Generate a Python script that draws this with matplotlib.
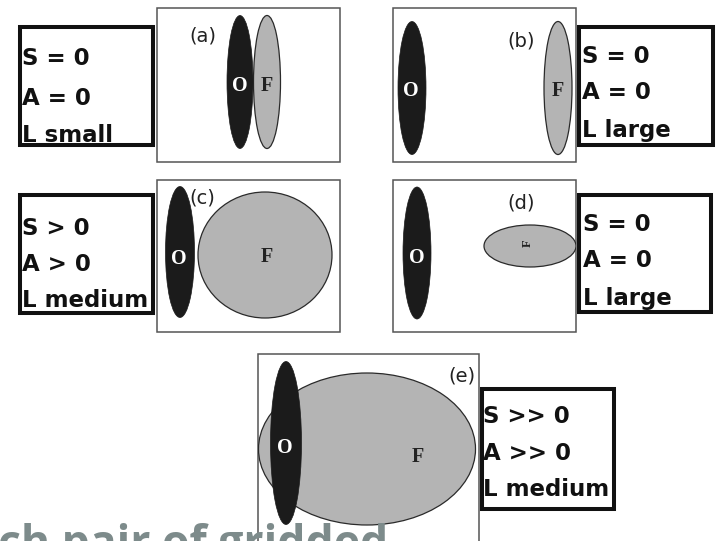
import matplotlib
matplotlib.use("Agg")
import matplotlib.pyplot as plt
from matplotlib.patches import Ellipse, Rectangle

# ---- data (pixel-space diagram) ----
panel_ids = ['(a)', '(b)', '(c)', '(d)', '(e)']
S_text = ['S = 0', 'S = 0', 'S > 0', 'S = 0', 'S >> 0']
A_text = ['A = 0', 'A = 0', 'A > 0', 'A = 0', 'A >> 0']
L_text = ['L small', 'L large', 'L medium', 'L large', 'L medium']

# panel frames: left, top, right, bottom
panel_boxes = [(157, 8, 340, 162), (393, 8, 576, 162), (157, 180, 340, 332),
               (393, 180, 576, 332), (258, 354, 479, 575)]
# label boxes (outer): left, top, right, bottom
label_boxes = [(18, 25, 155, 147), (577, 25, 715, 147), (18, 193, 155, 315),
               (577, 193, 713, 314), (480, 387, 616, 511)]
label_x = [22, 582, 22, 583, 483]
label_baselines = [(65, 105, 142), (63, 99, 137), (235, 271, 307),
                   (231, 267, 305), (423, 460, 496)]

# ellipses: cx, cy, width, height
O_ellipses = [(240, 82, 26, 133), (412, 88, 28, 133), (180, 252, 29, 131),
              (417, 253, 28, 132), (286, 443, 31, 163)]
F_ellipses = [(267, 82, 27, 133), (558, 88, 28, 133), (265, 255, 134, 126),
              (530, 246, 92, 42), (367, 449, 217, 152)]
O_text_pos = [(240, 86), (411, 91), (179, 259), (417, 258), (285, 448)]
F_text_pos = [(267, 86), (558, 91), (267, 257), (528, 243), (418, 457)]
F_rotation = [0, 0, 0, 90, 0]
panel_id_pos = [(203, 36), (521, 41), (202, 198), (521, 203), (462, 376)]

footer_text = 'ch pair of gridded'

W, H = 718, 541
fig = plt.figure(figsize=(W / 100, H / 100), dpi=100)
ax = fig.add_axes([0, 0, 1, 1])
ax.set_xlim(0, W)
ax.set_ylim(H, 0)
ax.axis('off')

for i in range(len(panel_ids)):
    l, t, r, b = panel_boxes[i]
    frame = Rectangle((l, t), r - l, b - t, facecolor='white', edgecolor='#555555',
                      linewidth=1.1, zorder=1)
    ax.add_patch(frame)
    fx, fy, fw, fh = F_ellipses[i]
    fe = Ellipse((fx, fy), fw, fh, facecolor='#b4b4b4', edgecolor='#2a2a2a',
                 linewidth=0.9, zorder=2)
    ax.add_patch(fe)
    fe.set_clip_path(frame)
    ox, oy, ow, oh = O_ellipses[i]
    oe = Ellipse((ox, oy), ow, oh, facecolor='#1b1b1b', edgecolor='#1b1b1b',
                 linewidth=0.5, zorder=3)
    ax.add_patch(oe)
    ax.text(*O_text_pos[i], 'O', color='white', fontsize=14.5, fontweight='bold',
            family='Liberation Serif', ha='center', va='center', zorder=4)
    ax.text(*F_text_pos[i], 'F', color='#222222', fontsize=14.5 if F_rotation[i] == 0 else 9,
            fontweight='bold', family='Liberation Serif', ha='center', va='center',
            rotation=F_rotation[i], zorder=4)
    ax.text(*panel_id_pos[i], panel_ids[i], color='#222222', fontsize=14,
            family='DejaVu Sans', ha='center', va='center', zorder=4)

    # label box
    l, t, r, b = label_boxes[i]
    inset = 2
    ax.add_patch(Rectangle((l + inset, t + inset), r - l - 2 * inset, b - t - 2 * inset,
                           facecolor='white', edgecolor='#111111', linewidth=2.9,
                           zorder=5))
    for txt, yb in zip((S_text[i], A_text[i], L_text[i]), label_baselines[i]):
        ax.text(label_x[i], yb, txt, fontsize=16.5, fontweight='bold',
                family='DejaVu Sans', color='#111111', ha='left', va='baseline',
                zorder=6)

ax.text(-2, 557, footer_text, fontsize=32, fontweight='bold', family='Open Sans',
        color='#7d8b8b', ha='left', va='baseline', zorder=7)

fig.savefig('out.png', dpi=100)
